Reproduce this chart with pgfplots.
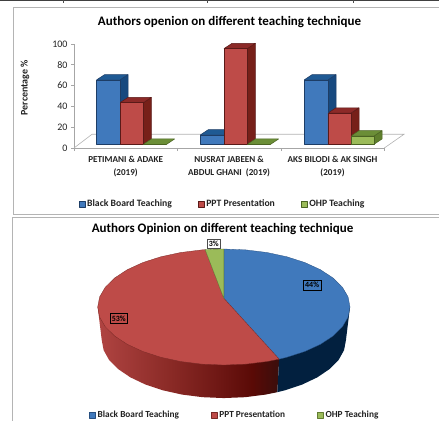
\documentclass[border=0pt]{standalone}
\usepackage{fontspec}
\setmainfont{Carlito}
\usepackage{pgfplots}
\pgfplotsset{compat=1.18}
\definecolor{cblue}{HTML}{4079BC}
\definecolor{cblueT}{HTML}{1F5A94}
\definecolor{cblueS}{HTML}{17497F}
\definecolor{cblueE}{HTML}{1D3D66}
\definecolor{cred}{HTML}{BE4B48}
\definecolor{credT}{HTML}{8C2A28}
\definecolor{credS}{HTML}{772019}
\definecolor{credE}{HTML}{5A1A18}
\definecolor{cgreen}{HTML}{9BBB59}
\definecolor{cgreenT}{HTML}{6B8E37}
\definecolor{cgreenS}{HTML}{5F7F2D}
\definecolor{cgreenE}{HTML}{4A6322}
\definecolor{frameg}{HTML}{B4B4B4}
\definecolor{txt}{HTML}{222222}
\definecolor{sideA}{HTML}{B04442}
\definecolor{sideB}{HTML}{8A2A26}
\definecolor{sideM}{HTML}{6B1512}
\definecolor{sideD}{HTML}{5A0A06}
\definecolor{sideC}{HTML}{3A0E0C}
\definecolor{sideN}{HTML}{02203F}
\pgfdeclarehorizontalshading{redside}{100bp}{color(0bp)=(sideA); color(25bp)=(sideA); color(45bp)=(sideB); color(60bp)=(sideM); color(67.5bp)=(sideD); color(75bp)=(sideC); color(100bp)=(sideC)}
\pgfplotsset{
  squareleg/.style={legend image code/.code={\draw[##1,line width=.4pt] (0pt,-3pt) rectangle (6pt,3pt);}},
  hidden/.style={hide axis,scale only axis,clip=false},
  every axis title shift=0pt,
}
\begin{document}
\begin{tikzpicture}[x=1pt,y=1pt]
\path[use as bounding box] (0,0) rectangle (439,421);
% frames
\fill[black!75] (0,420) rectangle (439,421);
\draw[black!70,line width=.6pt] (63,421)--(63,418) (207,421)--(207,418) (353,421)--(353,418);
\draw[frameg,line width=.8pt] (439,414)--(13,414)--(13,207)--(439,207);
\draw[frameg,line width=.8pt] (439,204)--(12.5,204)--(12.5,0);
% --- top chart: frame axis
\begin{axis}[
  at={(74pt,273pt)},anchor=south west,scale only axis,width=310.3pt,height=104pt,
  xmin=74,xmax=384.3,ymin=0,ymax=100,clip=false,
  axis x line*=bottom,axis y line*=left,
  axis line style={gray!70,line width=.6pt,-},
  tick style={gray!70,line width=.6pt},
  tick align=outside,major tick length=3pt,
  xtick={74,177.4,280.8,384.3},
  x tick label as interval,
  xticklabels={{PETIMANI \& ADAKE\\(2019)},{NUSRAT JABEEN \&\\ABDUL GHANI~~(2019)},{AKS BILODI \& AK SINGH\\(2019)}},
  xticklabel style={align=center,font=\bfseries\fontsize{9.1}{12.4}\selectfont,text=txt,yshift=-2pt},
  ytick={0,20,40,60,80,100},
  yticklabel style={font=\fontsize{10}{11}\selectfont,text=txt},
  /pgf/number format/assume math mode=true,
  ylabel={Percentage \%},
  ylabel style={at={(axis description cs:-0.158,0.58)},anchor=center,font=\bfseries\fontsize{10}{11}\selectfont,text=txt},
  title={Authors openion on different teaching technique},
  title style={at={(axis description cs:0.501,1.2115)},anchor=center,font=\bfseries\fontsize{13}{15}\selectfont,text=black},
]
\addplot[gray!60,line width=.6pt] coordinates {(74,0)(92,13.2)(404,13.2)(384.3,0)};
\end{axis}
% --- top chart: bars
\begin{axis}[
  at={(74pt,276.7pt)},anchor=south west,hidden,width=310.3pt,height=104pt,
  xmin=74,xmax=384.3,ymin=0,ymax=100,
  squareleg,
  legend columns=3,
  legend style={at={(axis description cs:0.0147,-0.5735)},anchor=west,draw=none,fill=none,inner sep=0pt,
    font=\bfseries\fontsize{9.7}{11}\selectfont,text=txt,
    /tikz/every even column/.append style={column sep=24pt},
    /tikz/every odd column/.append style={column sep=0pt}},
]
% blue tops and sides
\pgfplotsset{every axis plot/.append style={line width=.5pt,line join=round}}
\addplot[forget plot,fill=cblueS,draw=cblueE] coordinates {(120,0)(120,62)(128,67.1)(128,5.1)} -- cycle;
\addplot[forget plot,fill=cblueT,draw=cblueE] coordinates {(96.7,62)(120,62)(128,67.1)(104.7,67.1)} -- cycle;
\addplot[forget plot,fill=cblueS,draw=cblueE] coordinates {(224,0)(224,9)(232,14.1)(232,5.1)} -- cycle;
\addplot[forget plot,fill=cblueT,draw=cblueE] coordinates {(200.3,9)(224,9)(232,14.1)(208.3,14.1)} -- cycle;
\addplot[forget plot,fill=cblueS,draw=cblueE] coordinates {(328,0)(328,62)(336,67.1)(336,5.1)} -- cycle;
\addplot[forget plot,fill=cblueT,draw=cblueE] coordinates {(304.3,62)(328,62)(336,67.1)(312.3,67.1)} -- cycle;
% red tops and sides
\addplot[forget plot,fill=credS,draw=credE] coordinates {(143.3,0)(143.3,40)(151.3,45.1)(151.3,5.1)} -- cycle;
\addplot[forget plot,fill=credT,draw=credE] coordinates {(120,40)(143.3,40)(151.3,45.1)(128,45.1)} -- cycle;
\addplot[forget plot,fill=credS,draw=credE] coordinates {(247.3,0)(247.3,92)(255.3,97.1)(255.3,5.1)} -- cycle;
\addplot[forget plot,fill=credT,draw=credE] coordinates {(224,92)(247.3,92)(255.3,97.1)(232,97.1)} -- cycle;
\addplot[forget plot,fill=credS,draw=credE] coordinates {(351,0)(351,30)(359,35.1)(359,5.1)} -- cycle;
\addplot[forget plot,fill=credT,draw=credE] coordinates {(328,30)(351,30)(359,35.1)(336,35.1)} -- cycle;
% green tops and sides
\addplot[forget plot,fill=cgreenT,draw=cgreenE] coordinates {(143.3,0)(166.6,0)(174.6,5.1)(151.3,5.1)} -- cycle;
\addplot[forget plot,fill=cgreenT,draw=cgreenE] coordinates {(247.3,0)(270.6,0)(278.6,5.1)(255.3,5.1)} -- cycle;
\addplot[forget plot,fill=cgreenS,draw=cgreenE] coordinates {(374,0)(374,8)(382,13.1)(382,5.1)} -- cycle;
\addplot[forget plot,fill=cgreenT,draw=cgreenE] coordinates {(351,8)(374,8)(382,13.1)(359,13.1)} -- cycle;
% front faces: the data
\addplot[ybar,bar width=23.3pt,bar shift=0pt,fill=cblue,draw=cblueE] coordinates {(108.35,62)(212.15,9)(316.15,62)};
\addlegendentry{Black Board Teaching}
\addplot[ybar,bar width=23.3pt,bar shift=0pt,fill=cred,draw=credE] coordinates {(131.65,40)(235.65,92)(339.5,30)};
\addlegendentry{PPT Presentation}
\addplot[ybar,bar width=23pt,bar shift=0pt,fill=cgreen,draw=cgreenE] coordinates {(154.95,0)(258.95,0)(362.5,8)};
\addlegendentry{OHP Teaching}
\end{axis}
% --- pie chart
\begin{axis}[
  at={(97.7pt,21.2pt)},anchor=south west,hidden,width=252.3pt,height=156.6pt,
  xmin=-1,xmax=1,ymin=-1.6,ymax=1.1,
  squareleg,
  title={Authors Opinion on different teaching technique},
  title style={at={(axis description cs:0.4947,1.0907)},anchor=center,font=\bfseries\fontsize{13}{15}\selectfont,text=black},
  legend columns=3,
  legend style={at={(axis description cs:-0.034,-0.100)},anchor=west,draw=none,fill=none,inner sep=0pt,
    font=\bfseries\fontsize{9.3}{10}\selectfont,text=txt,
    /tikz/every even column/.append style={column sep=30pt},
    /tikz/every odd column/.append style={column sep=0pt}},
]
\addplot[forget plot,draw=none,shade,shading=redside] coordinates {(-1,0)(-.968,-.57)(-.953,-.744)(-.910,-.912)(-.838,-1.07)(-.741,-1.213)(-.622,-1.336)(-.484,-1.436)(-.331,-1.510)(-.168,-1.555)(0,-1.57)(.168,-1.555)(.331,-1.510)(.424,-1.469)(.4384,-.8988)} -- cycle;
\addplot[forget plot,draw=none,fill=sideN] coordinates {(.4384,-.8988)(.424,-1.469)(.484,-1.436)(.622,-1.336)(.741,-1.213)(.838,-1.07)(.910,-.912)(.953,-.744)(.968,-.57)(1,0)} -- cycle;
\addplot[fill=cblue,draw=cblueE!70!cblue,line width=.3pt,line join=round] coordinates {(0,.15)(0,1)(.1736,.9848)(.342,.9397)(.5,.866)(.6428,.766)(.766,.6428)(.866,.5)(.9397,.342)(.9848,.1736)(1,0)(.9848,-.1736)(.9397,-.342)(.866,-.5)(.766,-.6428)(.6428,-.766)(.5,-.866)(.4384,-.8988)} -- cycle;
\addlegendentry{Black Board Teaching}
\addplot[fill=cred,draw=credE!70!cred,line width=.3pt,line join=round] coordinates {(0,.15)(.4384,-.8988)(.342,-.9397)(.1736,-.9848)(0,-1)(-.1736,-.9848)(-.342,-.9397)(-.5,-.866)(-.6428,-.766)(-.766,-.6428)(-.866,-.5)(-.9397,-.342)(-.9848,-.1736)(-1,0)(-.9848,.1736)(-.9397,.342)(-.866,.5)(-.766,.6428)(-.6428,.766)(-.5,.866)(-.342,.9397)(-.1736,.9848)(-.148,.989)} -- cycle;
\addlegendentry{PPT Presentation}
\addplot[fill=cgreen,draw=cgreenE!70!cgreen,line width=.3pt,line join=round] coordinates {(0,.15)(-.148,.989)(-.07,.9975)(0,1)} -- cycle;
\addlegendentry{OHP Teaching}
\node[draw=black,fill=cblue,font=\bfseries\fontsize{8}{9}\selectfont,inner sep=2pt,line width=.5pt] at (axis cs:.7,.38) {44\%};
\node[draw=black,fill=cred,font=\bfseries\fontsize{8}{9}\selectfont,inner sep=2pt,line width=.5pt] at (axis cs:-.833,-.195) {53\%};
\node[draw=black!70,fill=white,font=\bfseries\fontsize{8}{9}\selectfont,inner sep=2pt,line width=.5pt] at (axis cs:-.08,1.09) {3\%};
\end{axis}
\end{tikzpicture}
\end{document}
